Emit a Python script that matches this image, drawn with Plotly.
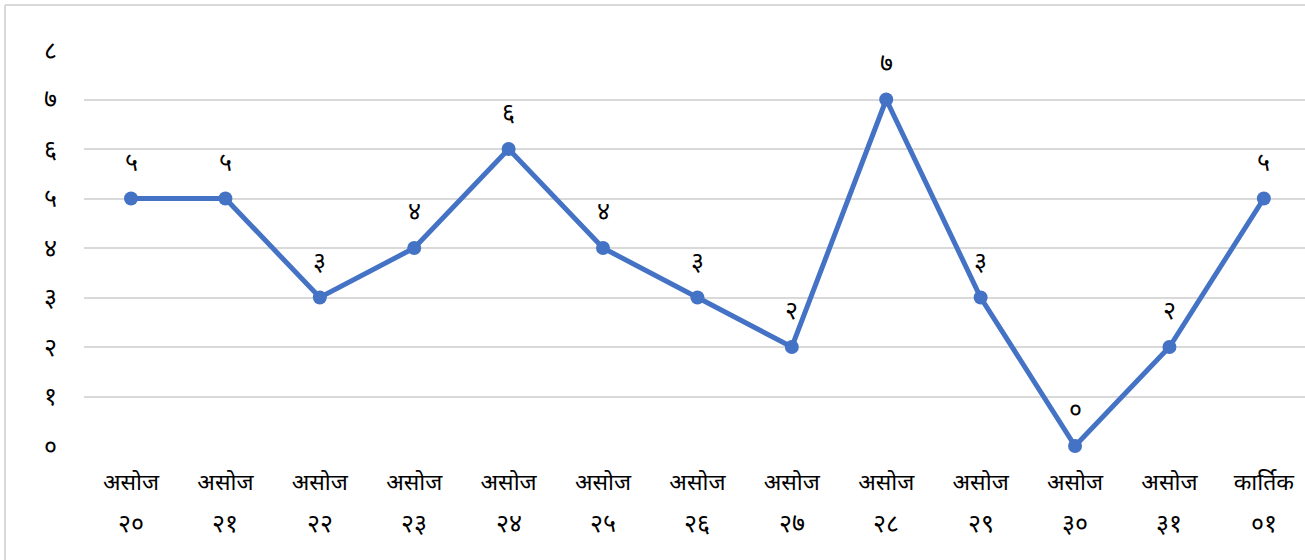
import plotly.graph_objects as go

months = ["असोज"] * 12 + ["कार्तिक"]
days = ["२०", "२१", "२२", "२३", "२४", "२५", "२६", "२७", "२८", "२९", "३०", "३१", "०१"]
values = [5, 5, 3, 4, 6, 4, 3, 2, 7, 3, 0, 2, 5]
value_labels = ["५", "५", "३", "४", "६", "४", "३", "२", "७", "३", "०", "२", "५"]
y_ticks = [0, 1, 2, 3, 4, 5, 6, 7, 8]
y_tick_labels = ["०", "१", "२", "३", "४", "५", "६", "७", "८"]

FONT = "Noto Sans, DejaVu Sans, sans-serif"
DIGIT_SIZE = 25
TEXT_SIZE = 23
x_idx = list(range(len(values)))

fig = go.Figure()
fig.add_trace(go.Scatter(
    x=x_idx, y=values, mode="lines+markers",
    line=dict(color="#4472C4", width=5),
    marker=dict(color="#4472C4", size=14),
    cliponaxis=False,
    hoverinfo="skip", showlegend=False,
))

for i, (v, t) in enumerate(zip(values, value_labels)):
    fig.add_annotation(x=i, y=v, text=t, showarrow=False, yshift=38,
                       font=dict(size=DIGIT_SIZE, color="#000000", family=FONT))
for i, d in enumerate(days):
    fig.add_annotation(x=i, y=0, xref="x", yref="paper", text=d, showarrow=False,
                       yanchor="middle", yshift=-76,
                       font=dict(size=DIGIT_SIZE, color="#000000", family=FONT))

# chart border (top and left visible)
fig.add_shape(type="line", xref="paper", yref="paper", x0=-0.0647, x1=1.01, y0=1.1136, y1=1.1136,
              line=dict(color="#d9d9d9", width=2))
fig.add_shape(type="line", xref="paper", yref="paper", x0=-0.0647, x1=-0.0647, y0=1.1136, y1=-0.3,
              line=dict(color="#d9d9d9", width=2))

fig.update_xaxes(
    tickmode="array", tickvals=x_idx, ticktext=months,
    range=[-0.498, 12.436], showgrid=False, zeroline=False, showline=False,
    ticks="", ticklabelstandoff=20,
    tickfont=dict(size=TEXT_SIZE, color="#000000", family=FONT),
)
fig.update_yaxes(
    tickmode="array", tickvals=y_ticks, ticktext=y_tick_labels,
    range=[0, 8], showgrid=True, gridcolor="#d9d9d9", gridwidth=1.5,
    zeroline=False, showline=False, ticks="", ticklabelstandoff=26,
    tickfont=dict(size=DIGIT_SIZE, color="#000000", family=FONT),
)
fig.update_layout(
    width=1305, height=560,
    margin=dict(l=84, r=0, t=50, b=114),
    paper_bgcolor="#ffffff", plot_bgcolor="#ffffff",
)
fig.write_html("out.html", config={"displayModeBar": False},
               post_script="document.body.style.margin='0px';")
